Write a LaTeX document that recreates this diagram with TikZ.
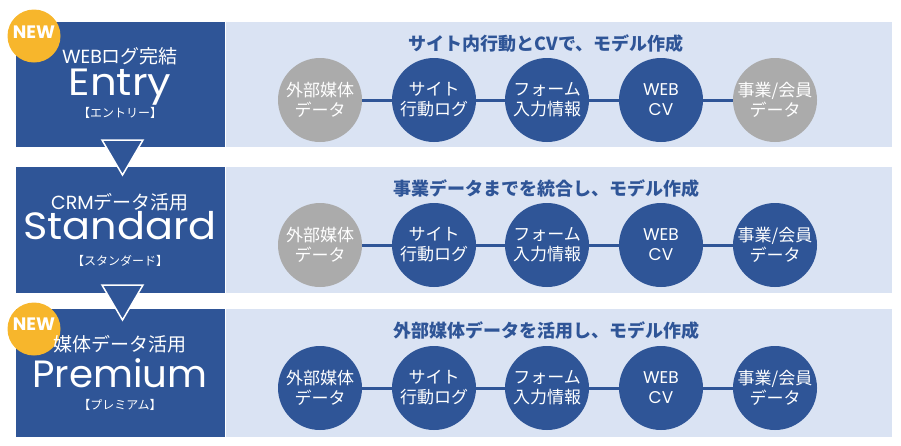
\documentclass[tikz,border=0pt]{standalone}
\usepackage{fontspec}
\setmainfont{Poppins}
\newfontfamily\jp{Noto Sans CJK JP}
\definecolor{dblue}{HTML}{2F5597}
\definecolor{lpanel}{HTML}{DAE3F3}
\definecolor{cgray}{HTML}{ABABAB}
\definecolor{newor}{HTML}{F7B62C}
\begin{document}
\begin{tikzpicture}[x=1pt,y=-1pt,
  leftbox/.style={fill=dblue, draw=none, minimum width=209pt, minimum height=125pt, inner sep=0},
  panel/.style={fill=lpanel, draw=none, minimum width=666pt, minimum height=125pt, inner sep=0},
  circ/.style={circle, minimum size=84pt, inner sep=0, text=white, align=center,
     font=\jp\fontsize{17}{20}\selectfont},
  bluec/.style={circ, fill=dblue},
  grayc/.style={circ, fill=cgray},
  conn/.style={draw=dblue, line width=3pt},
  head/.style={text=dblue, font=\jp\bfseries\fontsize{18}{20}\selectfont, inner sep=0},
  subt/.style={text=white, font=\fontsize{19}{20}\selectfont, inner sep=0, anchor=base},
  bigt/.style={text=white, font=\fontsize{38}{40}\selectfont, inner sep=0, anchor=base},
  brk/.style={text=white, font=\jp\fontsize{12}{14}\selectfont, inner sep=0},
  tri/.style={fill=dblue, draw=white, line width=1.5pt, line join=miter},
  newb/.style={circle, fill=newor, minimum size=53pt, inner sep=0},
  newt/.style={text=white, font=\bfseries\fontsize{18}{18}\selectfont, inner sep=0}
]
\useasboundingbox (0,0) rectangle (901,445);

% ---- Row 1 ----
\node[leftbox, minimum height=125pt] (L1) at (120.5,84.5) {};
\node[panel, minimum height=125pt] (P1) at (559,84.5) {};
% ---- Row 2 ----
\node[leftbox, minimum height=126pt] (L2) at (120.5,230) {};
\node[panel, minimum height=126pt] (P2) at (559,230) {};
% ---- Row 3 ----
\node[leftbox, minimum height=128pt] (L3) at (120.5,373) {};
\node[panel, minimum height=128pt] (P3) at (559,373) {};

% triangles
\draw[tri] (102,140) -- (143,140) -- (122.5,175) -- cycle;
\draw[tri] (102,285) -- (143,285) -- (122.5,320) -- cycle;

% NEW badges
\node[newb] (N1) at (34,36) {};
\node[newt] (N1t) at (34,32) {NEW};
\node[newb] (N3) at (34,329) {};
\node[newt] (N3t) at (34,324) {NEW};

% left texts
\node[subt] (s1) at (120,63) {WEB{\jp ログ完結}};
\node[bigt] (b1) at (120,95) {\scalebox{1.1}[1]{Entry}};
\node[brk] (k1) at (120,113) {【エントリー】};

\node[subt] (s2) at (120,209) {CRM{\jp データ活用}};
\node[bigt] (b2) at (120,239) {\scalebox{1.09}[1]{Standard}};
\node[brk] (k2) at (120,261) {【スタンダード】};

\node[subt] (s3) at (120,351) {\jp 媒体データ活用};
\node[bigt] (b3) at (120,387) {\scalebox{1.02}[1]{Premium}};
\node[brk] (k3) at (120,405) {【プレミアム】};

% headers
\node[head] (h1) at (546,44) {サイト内行動とCVで、モデル作成};
\node[head] (h2) at (546,189) {事業データまでを統合し、モデル作成};
\node[head] (h3) at (546,331) {外部媒体データを活用し、モデル作成};

% circles row 1
\node[grayc] (c11) at (320,100) {外部媒体\\データ};
\node[bluec] (c12) at (434,100) {サイト\\行動ログ};
\node[bluec] (c13) at (547,100) {フォーム\\入力情報};
\node[bluec, font=\fontsize{17}{20}\selectfont] (c14) at (661,100) {WEB\\CV};
\node[grayc] (c15) at (775,100) {事業/会員\\データ};
\draw[conn] (c11) -- (c12);
\draw[conn] (c12) -- (c13);
\draw[conn] (c13) -- (c14);
\draw[conn] (c14) -- (c15);

% circles row 2
\node[grayc] (c21) at (320,245) {外部媒体\\データ};
\node[bluec] (c22) at (434,245) {サイト\\行動ログ};
\node[bluec] (c23) at (547,245) {フォーム\\入力情報};
\node[bluec, font=\fontsize{17}{20}\selectfont] (c24) at (661,245) {WEB\\CV};
\node[bluec] (c25) at (775,245) {事業/会員\\データ};
\draw[conn] (c21) -- (c22);
\draw[conn] (c22) -- (c23);
\draw[conn] (c23) -- (c24);
\draw[conn] (c24) -- (c25);

% circles row 3
\node[bluec] (c31) at (320,388) {外部媒体\\データ};
\node[bluec] (c32) at (434,388) {サイト\\行動ログ};
\node[bluec] (c33) at (547,388) {フォーム\\入力情報};
\node[bluec, font=\fontsize{17}{20}\selectfont] (c34) at (661,388) {WEB\\CV};
\node[bluec] (c35) at (775,388) {事業/会員\\データ};
\draw[conn] (c31) -- (c32);
\draw[conn] (c32) -- (c33);
\draw[conn] (c33) -- (c34);
\draw[conn] (c34) -- (c35);
\end{tikzpicture}
\end{document}
